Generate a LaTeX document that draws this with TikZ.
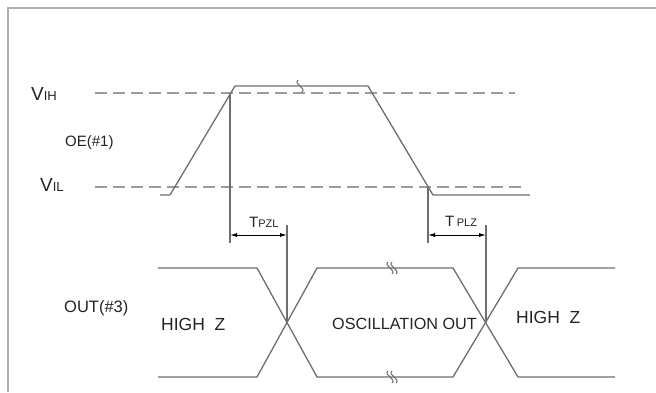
\documentclass[tikz,border=0pt]{standalone}
\usepackage{fontspec}
\setmainfont{Liberation Sans}
\usetikzlibrary{arrows.meta}
\definecolor{sig}{RGB}{110,110,110}
\definecolor{lvl}{RGB}{155,155,155}
\definecolor{frm}{RGB}{175,175,175}
\definecolor{txt}{RGB}{35,35,35}
\tikzset{
    wave/.style={draw=sig,line width=1.3pt},
    level/.style={draw=lvl,line width=1.4pt,dash pattern=on 12pt off 6pt},
    tick/.style={draw=sig,line width=1.1pt},
    span/.style={draw=black,line width=0.9pt,{Latex[length=7pt,width=4pt]}-{Latex[length=7pt,width=4pt]}},
    lbl/.style={text=txt,inner sep=0pt,anchor=base west,font=\fontsize{16}{18}\selectfont},
    brk/.pic={\draw[sig,line width=1pt] (-2,-6) .. controls (-7,-2) and (7,2) .. (2,6);},
    brkk/.pic={\draw[sig,line width=1pt] (-4,-6) .. controls (-9,-2) and (5,2) .. (0,6);
               \draw[sig,line width=1pt] (0,-6) .. controls (-5,-2) and (9,2) .. (4,6);}
}
\newcommand{\lev}[2]{{\fontsize{19}{20}\selectfont #1}{\fontsize{13}{14}\selectfont #2}}
\newcommand{\tim}[2]{{\fontsize{15}{16}\selectfont #1}{\fontsize{11}{12}\selectfont #2}}

\begin{document}
\begin{tikzpicture}[x=1pt,y=-1pt]
    \useasboundingbox (0,0) rectangle (656,392);

    % frame
    \draw[frm,line width=1.6pt] (8,392) -- (8,8) -- (656,8);

    % levels
    \draw[level] (95,93) -- (515,93);
    \draw[level] (95,187) -- (523,187);
    \node[lbl] (vih) at (31,100) {\lev{V}{IH}};
    \node[lbl] (vil) at (40,191) {\lev{V}{IL}};
    \node[lbl,font=\fontsize{15}{18}\selectfont] (oe) at (65,146) {OE(\#1)};

    % OE input
    \draw[wave] (160,195) -- ++(10,0) -- (235,86) -- (368,86) -- (433,195) -- (530,195);
    \pic at (300,86) {brk};

    % timing marks
    \coordinate (p1) at (230,235);
    \coordinate (p2) at (287,235);
    \coordinate (p3) at (428,235);
    \coordinate (p4) at (486,235);
    \draw[tick] (230,93) -- (230,243);
    \draw[tick] (287,225) -- (287,322);
    \draw[tick] (428,187) -- (428,243);
    \draw[tick] (486,225) -- (486,322);
    \draw[span] (p1) -- (p2);
    \draw[span] (p3) -- (p4);
    \node[lbl] (tpzl) at (249,227) {\tim{T}{PZL}};
    \node[lbl] (tplz) at (445,226) {\tim{T\,}{PLZ}};

    % output
    \draw[wave] (158,268) -- (257,268) -- (317,377) -- (453,377) -- (518,268) -- (615,268);
    \draw[wave] (158,377) -- (257,377) -- (317,268) -- (453,268) -- (518,377) -- (615,377);
    \pic at (392,268) {brkk};
    \pic at (392,377) {brkk};

    \node[lbl,font=\fontsize{16.5}{18}\selectfont] (out) at (64,312) {OUT(\#3)};
    \node[lbl,font=\fontsize{17.5}{18}\selectfont] (hiz1) at (161,330) {HIGH\ \ Z};
    \node[lbl,font=\fontsize{16.2}{18}\selectfont] (osc) at (332,329) {OSCILLATION OUT};
    \node[lbl,font=\fontsize{17.5}{18}\selectfont] (hiz2) at (516,323) {HIGH\ \ Z};

\end{tikzpicture}
\end{document}
